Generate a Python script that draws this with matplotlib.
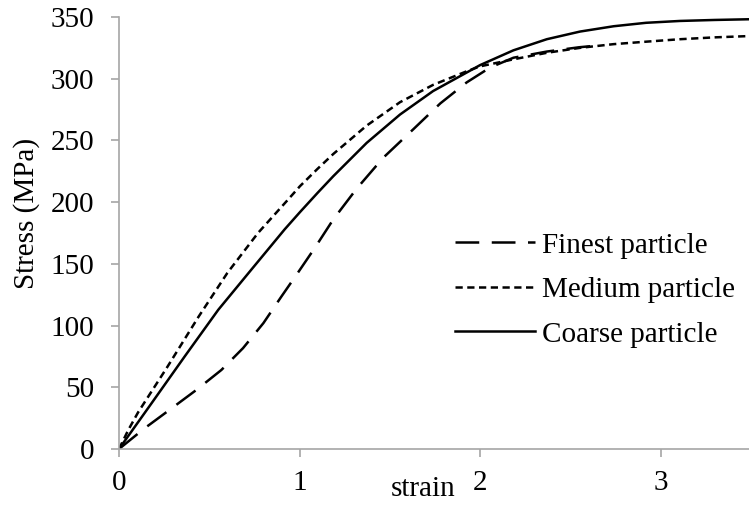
import matplotlib
matplotlib.use("Agg")
import matplotlib.pyplot as plt

# Values
strain_finest = [0, 0.142, 0.28, 0.43, 0.567, 0.687, 0.80, 0.90, 0.99, 1.085, 1.187,
                 1.317, 1.464, 1.63, 1.78, 1.926, 2.055, 2.185, 2.37, 2.55, 2.66]
stress_finest = [0, 16.8, 31.7, 48, 64, 81.7, 102, 123.6, 142.6, 163, 186,
                 211, 236, 259, 280, 297, 309, 317, 322, 325.5, 327]

strain_medium = [0, 0.05, 0.105, 0.27, 0.44, 0.60, 0.77, 0.936, 1.003, 1.10, 1.187, 1.372,
                 1.557, 1.74, 1.926, 2.0, 2.185, 2.37, 2.554, 2.74, 2.92, 3.108, 3.3, 3.5]
stress_medium = [0, 15, 29.5, 67, 107, 142.6, 175, 202, 213, 227, 239, 262,
                 281, 295, 306, 310, 315.7, 321, 325, 328, 330, 332, 333.5, 334.6]

strain_coarse = [0, 0.18, 0.364, 0.55, 0.733, 0.918, 1.003, 1.10, 1.187, 1.372, 1.557,
                 1.74, 1.926, 2.0, 2.185, 2.37, 2.554, 2.74, 2.92, 3.108, 3.3, 3.5]
stress_coarse = [0, 37, 75, 112.8, 145.3, 178, 192, 207.5, 221, 248, 271,
                 290, 305, 311, 323, 332, 338.2, 342.5, 345.3, 346.8, 347.6, 348.2]

x_ticks = [0, 1, 2, 3]
y_ticks = [0, 50, 100, 150, 200, 250, 300, 350]

plt.rcParams['font.family'] = ['Liberation Serif', 'DejaVu Serif']

fig = plt.figure(figsize=(7.49, 5.15), dpi=100)
ax = fig.add_axes([0.1589, 0.1282, 0.8435, 0.8388])

lw = 1.8
ax.plot(strain_finest, stress_finest, color='black', lw=lw,
        linestyle=(0, (9.5, 5.0)), label='Finest particle')
ax.plot(strain_medium, stress_medium, color='black', lw=lw,
        linestyle=(0, (2.9, 1.8)), label='Medium particle')
ax.plot(strain_coarse, stress_coarse, color='black', lw=lw,
        linestyle='-', label='Coarse particle')

ax.set_xlim(0, 3.5)
ax.set_ylim(0, 350)
ax.set_xticks(x_ticks)
ax.set_yticks(y_ticks)

# Excel-like gray axes
for s in ['top', 'right']:
    ax.spines[s].set_visible(False)
for s in ['left', 'bottom']:
    ax.spines[s].set_color('#a6a6a6')
    ax.spines[s].set_linewidth(1.2)
ax.tick_params(direction='out', length=6, width=1.2, color='#a6a6a6',
               labelsize=21, labelcolor='black')
ax.tick_params(axis='y', pad=12)
ax.tick_params(axis='x', pad=9)

ax.set_xlabel('strain', fontsize=21)
ax.set_ylabel('Stress (MPa)', fontsize=21)
ax.xaxis.set_label_coords(0.481, -0.062)
ax.yaxis.set_label_coords(-0.125, 0.545)

ax.legend(loc='upper left', bbox_to_anchor=(0.532, 0.502), frameon=False,
          fontsize=21, handlelength=2.75, handletextpad=0.22,
          labelspacing=0.62, borderpad=0, borderaxespad=0)

fig.savefig('out.png', dpi=100)
